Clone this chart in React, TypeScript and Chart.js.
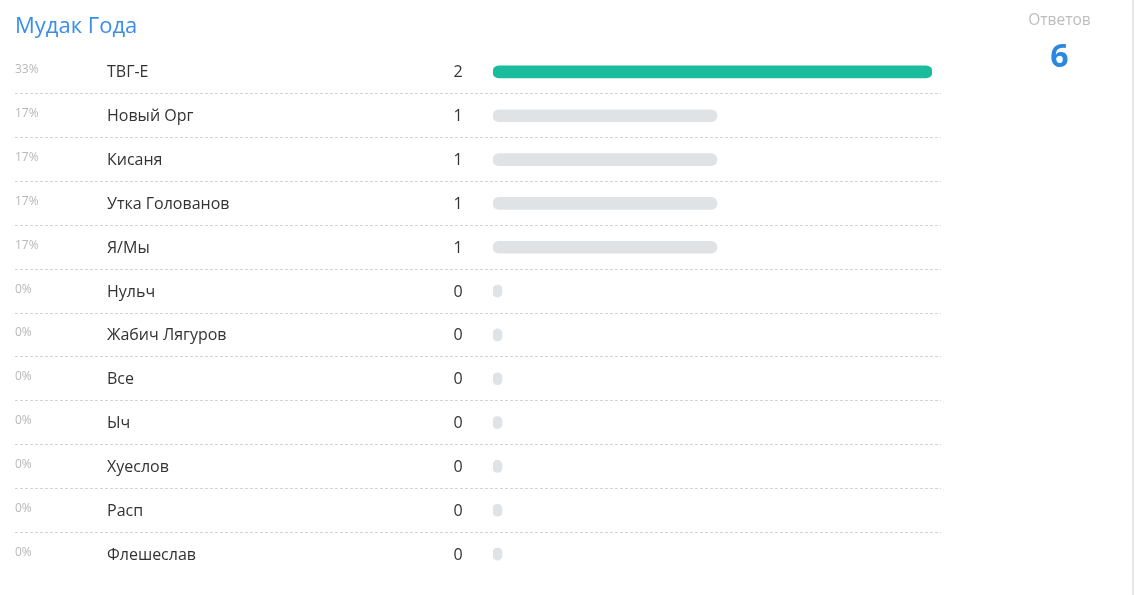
import React, { useEffect, useRef } from "react";
import { Chart, registerables } from "chart.js";

Chart.register(...registerables);

const title = "Мудак Года";
const answersLabel = "Ответов";
const categories = [
  "ТВГ-Е",
  "Новый Орг",
  "Кисаня",
  "Утка Голованов",
  "Я/Мы",
  "Нульч",
  "Жабич Лягуров",
  "Все",
  "Ыч",
  "Хуеслов",
  "Расп",
  "Флешеслав",
];
const votes = [2, 1, 1, 1, 1, 0, 0, 0, 0, 0, 0, 0];

const FONT = "'Open Sans', 'Noto Sans', sans-serif";
const GREEN = "#1abc9c";
const GREY = "#dfe3e6";

export default function App() {
  const canvasRef = useRef<HTMLCanvasElement | null>(null);
  const total = votes.reduce((a, b) => a + b, 0);

  useEffect(() => {
    const canvas = canvasRef.current;
    if (!canvas) return;
    const maxV = Math.max(...votes);
    // small stub so zero-vote bars still show as a dot
    const base = -(maxV * 9) / 430;

    const rowsPlugin = {
      id: "rowsPlugin",
      afterDraw(chart: any) {
        const ctx = chart.ctx as CanvasRenderingContext2D;
        const yScale = chart.scales.y;
        ctx.save();
        ctx.textBaseline = "middle";
        const ys: number[] = categories.map((_, i) => yScale.getPixelForValue(i));
        categories.forEach((name, i) => {
          const y = ys[i];
          const pct = total ? Math.round((votes[i] / total) * 100) : 0;
          ctx.font = `12px ${FONT}`;
          ctx.fillStyle = "#b8b8b8";
          ctx.textAlign = "left";
          ctx.fillText(`${pct}%`, 15, y - 2);
          ctx.font = `16px ${FONT}`;
          ctx.fillStyle = "#333333";
          ctx.fillText(name, 107, y + 1);
          ctx.textAlign = "center";
          ctx.fillText(String(votes[i]), 458, y + 1);
        });
        ctx.strokeStyle = "#d3d3d3";
        ctx.lineWidth = 1;
        ctx.setLineDash([3, 2]);
        for (let i = 0; i < ys.length - 1; i++) {
          const yy = Math.floor((ys[i] + ys[i + 1]) / 2) + 0.5;
          ctx.beginPath();
          ctx.moveTo(15, yy);
          ctx.lineTo(941, yy);
          ctx.stroke();
        }
        ctx.restore();
      },
    };

    const chart = new Chart(canvas, {
      type: "bar",
      data: {
        labels: categories,
        datasets: [
          {
            data: votes,
            base: base,
            backgroundColor: votes.map((v) => (v === maxV && v > 0 ? GREEN : GREY)),
            borderRadius: 6,
            borderSkipped: false,
            barThickness: 12,
          } as any,
        ],
      },
      options: {
        indexAxis: "y",
        responsive: false,
        animation: false,
        events: [],
        layout: { padding: { left: 493, right: 203, top: 50, bottom: 19 } },
        scales: {
          x: { display: false, min: base, max: maxV },
          y: { display: false },
        },
        plugins: {
          legend: { display: false },
          tooltip: { enabled: false },
        },
      },
      plugins: [rowsPlugin],
    });
    return () => chart.destroy();
  }, []);

  return (
    <div
      style={{
        position: "fixed",
        left: 0,
        top: 0,
        width: 1135,
        height: 595,
        background: "#ffffff",
        fontFamily: FONT,
        overflow: "hidden",
      }}
    >
      <canvas
        ref={canvasRef}
        width={1135}
        height={595}
        style={{ position: "absolute", left: 0, top: 0, width: 1135, height: 595 }}
      />
      <div
        style={{
          position: "absolute",
          left: 15,
          top: 9,
          fontSize: 22,
          lineHeight: "30px",
          color: "#3a8ee6",
          whiteSpace: "nowrap",
        }}
      >
        {title}
      </div>
      <div
        style={{
          position: "absolute",
          left: 1000,
          width: 119,
          top: 9,
          textAlign: "center",
          fontSize: 15.5,
          lineHeight: "20px",
          color: "#bdbdbd",
        }}
      >
        {answersLabel}
      </div>
      <div
        style={{
          position: "absolute",
          left: 1000,
          width: 119,
          top: 35,
          textAlign: "center",
          fontSize: 32,
          fontWeight: 700,
          lineHeight: "40px",
          color: "#2b88e0",
        }}
      >
        {total}
      </div>
      <div
        style={{
          position: "absolute",
          left: 1132,
          top: 0,
          width: 2,
          height: 595,
          background: "#e6e6e6",
        }}
      />
    </div>
  );
}
